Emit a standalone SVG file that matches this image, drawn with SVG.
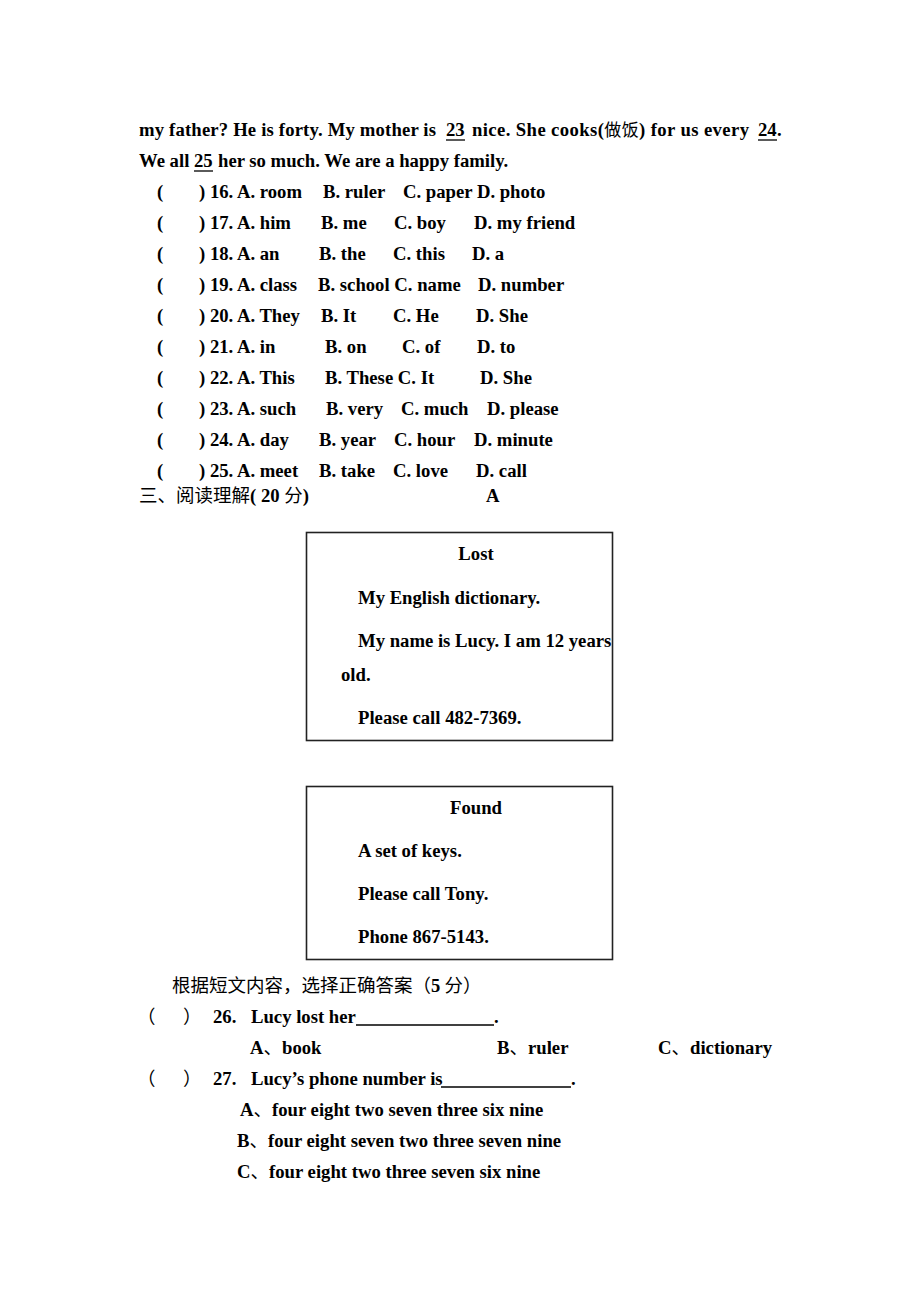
<svg xmlns="http://www.w3.org/2000/svg" width="920" height="1302" viewBox="0 0 920 1302">
<style>
text{font-family:"Liberation Serif","Noto Sans CJK SC",serif;font-size:18.7px;font-weight:bold;fill:#000}
.cn{font-family:"Noto Sans CJK SC","Liberation Serif",sans-serif;font-weight:normal;font-size:18.5px}
.ul{stroke:#000;stroke-width:1.3}
.box{fill:none;stroke:#222;stroke-width:1.6}
</style>
<rect width="920" height="1302" fill="#fff"/>
<g id="passage">
<text x="139" y="136" textLength="297" lengthAdjust="spacing">my father? He is forty. My mother is</text>
<text x="446" y="136">23</text>
<text x="472" y="136" textLength="277" lengthAdjust="spacing">nice. She cooks(<tspan class="cn" style="font-size:17px">做饭</tspan>) for us every</text>
<text x="758" y="136">24</text>
<text x="777" y="136">.</text>
<line class="ul" x1="446" y1="140" x2="465" y2="140"/>
<line class="ul" x1="758" y1="140" x2="777" y2="140"/>
<text x="139" y="167">We all</text>
<text x="194" y="167">25</text>
<text x="218" y="167">her so much. We are a happy family.</text>
<line class="ul" x1="194" y1="171" x2="213" y2="171"/>
</g>
<g id="questions">
<text x="157" y="198">(</text><text x="199" y="198">) 16. A. room</text><text x="323" y="198">B. ruler</text><text x="403" y="198">C. paper D. photo</text>
<text x="157" y="229">(</text><text x="199" y="229">) 17. A. him</text><text x="321" y="229">B. me</text><text x="394" y="229">C. boy</text><text x="474" y="229">D. my friend</text>
<text x="157" y="260">(</text><text x="199" y="260">) 18. A. an</text><text x="319" y="260">B. the</text><text x="393" y="260">C. this</text><text x="472" y="260">D. a</text>
<text x="157" y="291">(</text><text x="199" y="291">) 19. A. class</text><text x="318" y="291">B. school C. name</text><text x="478" y="291">D. number</text>
<text x="157" y="322">(</text><text x="199" y="322">) 20. A. They</text><text x="321" y="322">B. It</text><text x="393" y="322">C. He</text><text x="476" y="322">D. She</text>
<text x="157" y="353">(</text><text x="199" y="353">) 21. A. in</text><text x="325" y="353">B. on</text><text x="402" y="353">C. of</text><text x="477" y="353">D. to</text>
<text x="157" y="384">(</text><text x="199" y="384">) 22. A. This</text><text x="325" y="384">B. These C. It</text><text x="480" y="384">D. She</text>
<text x="157" y="415">(</text><text x="199" y="415">) 23. A. such</text><text x="326" y="415">B. very</text><text x="401" y="415">C. much</text><text x="487" y="415">D. please</text>
<text x="157" y="446">(</text><text x="199" y="446">) 24. A. day</text><text x="319" y="446">B. year</text><text x="394" y="446">C. hour</text><text x="474" y="446">D. minute</text>
<text x="157" y="477">(</text><text x="199" y="477">) 25. A. meet</text><text x="319" y="477">B. take</text><text x="393" y="477">C. love</text><text x="476" y="477">D. call</text>
</g>
<g id="section3">
<text x="139" y="502"><tspan class="cn">三、阅读理解</tspan>( 20 <tspan class="cn">分</tspan>)</text>
<text x="486" y="502">A</text>
</g>
<g id="lost">
<rect class="box" x="306.5" y="532.5" width="306" height="208"/>
<text x="476" y="560" text-anchor="middle">Lost</text>
<text x="358" y="604">My English dictionary.</text>
<text x="358" y="647">My name is Lucy. I am 12 years</text>
<text x="341" y="681">old.</text>
<text x="358" y="724">Please call 482-7369.</text>
</g>
<g id="found">
<rect class="box" x="306.5" y="786.5" width="306" height="173"/>
<text x="476" y="814" text-anchor="middle">Found</text>
<text x="358" y="857">A set of keys.</text>
<text x="358" y="900">Please call Tony.</text>
<text x="358" y="943">Phone 867-5143.</text>
</g>
<g id="comprehension">
<text class="cn" x="172" y="992">根据短文内容，选择正确答案（<tspan style="font-family:'Liberation Serif',serif;font-weight:bold">5</tspan> 分）</text>
<text class="cn" x="137" y="1023">（</text><text class="cn" x="183" y="1023">）</text><text x="213" y="1023">26.</text><text x="251" y="1023">Lucy lost her</text>
<line class="ul" x1="356" y1="1025" x2="494" y2="1025"/><text x="494" y="1023">.</text>
<text x="250" y="1054">A<tspan class="cn">、</tspan>book</text>
<text x="497" y="1054">B<tspan class="cn">、</tspan>ruler</text>
<text x="658" y="1054">C<tspan class="cn">、</tspan>dictionary</text>
<text class="cn" x="137" y="1085">（</text><text class="cn" x="183" y="1085">）</text><text x="213" y="1085">27.</text><text x="251" y="1085">Lucy’s phone number is</text>
<line class="ul" x1="441" y1="1087" x2="571" y2="1087"/><text x="571" y="1085">.</text>
<text x="240" y="1116">A<tspan class="cn">、</tspan>four eight two seven three six nine</text>
<text x="237" y="1147">B<tspan class="cn">、</tspan>four eight seven two three seven nine</text>
<text x="237" y="1178">C<tspan class="cn">、</tspan>four eight two three seven six nine</text>
</g>
</svg>
